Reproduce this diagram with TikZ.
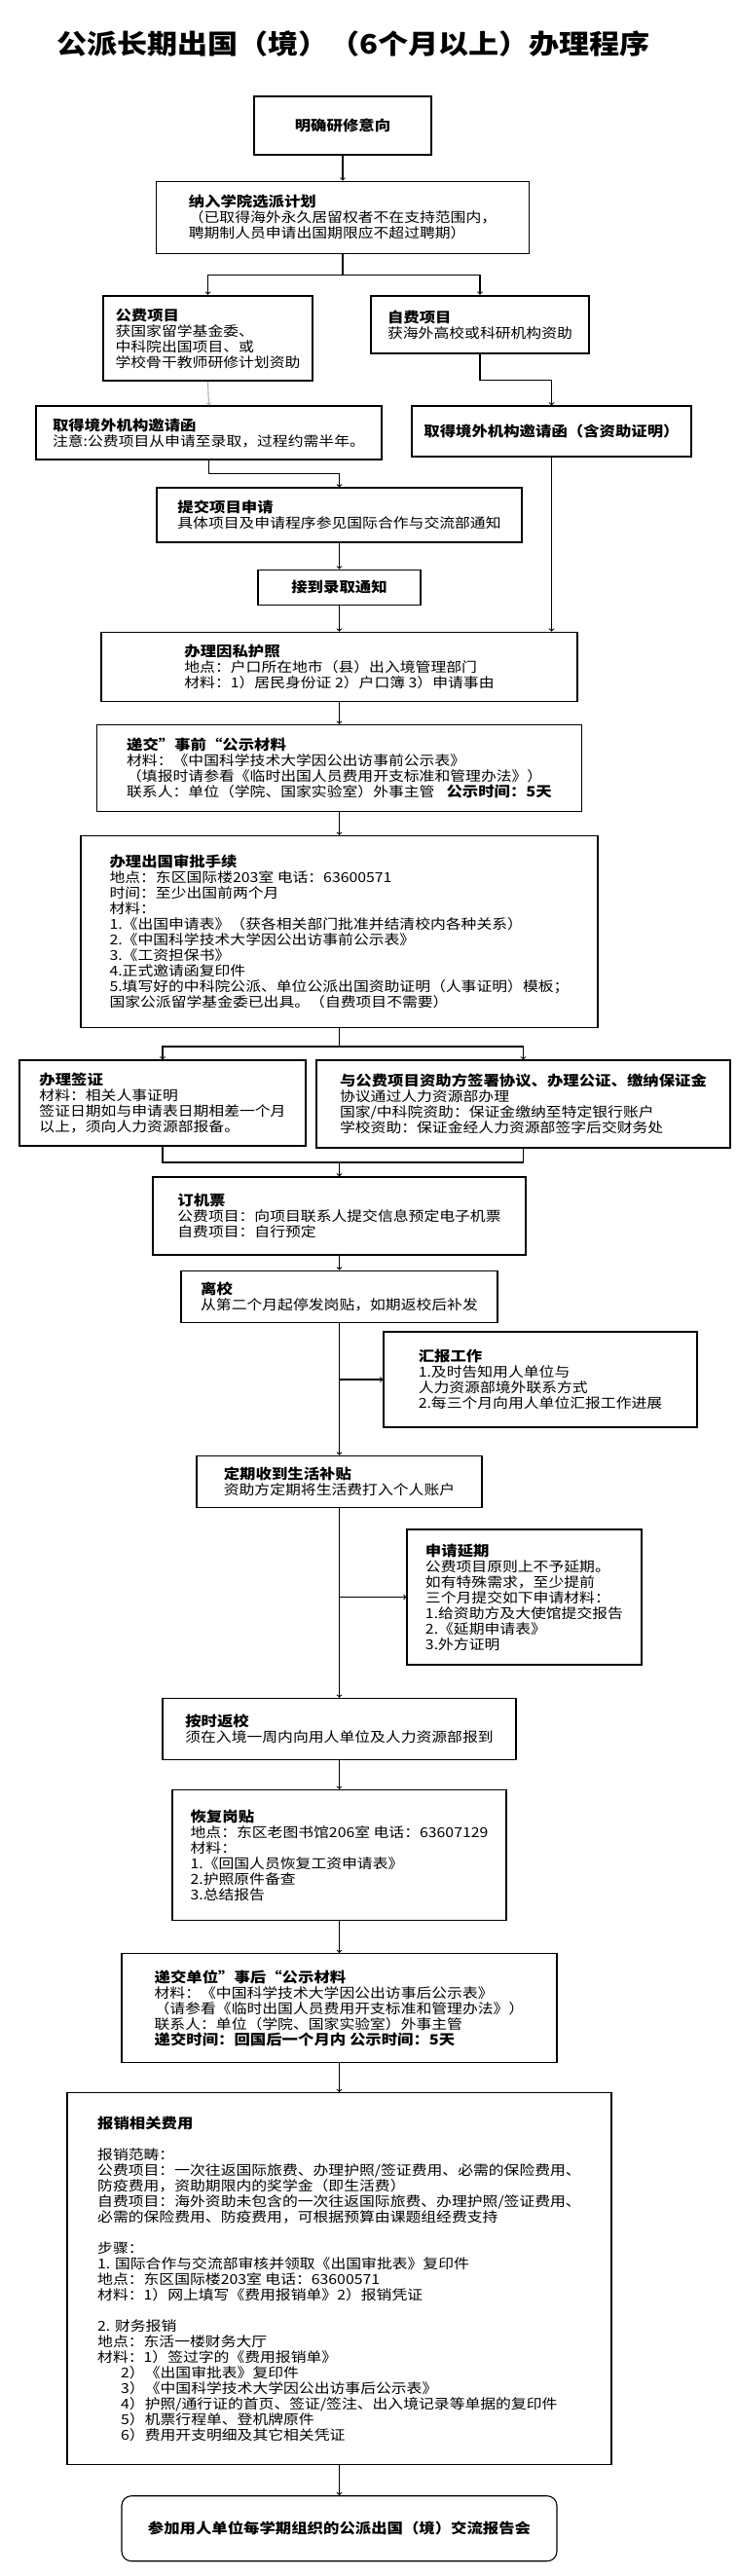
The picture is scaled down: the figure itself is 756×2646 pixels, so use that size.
\documentclass[tikz,border=0pt]{standalone}
\usepackage{fontspec}
\setmainfont{Noto Sans CJK SC}[FakeStretch=1.13]
\usepackage{tikz}
\usetikzlibrary{arrows, positioning, calc}

\newcommand{\hd}[1]{{\fontsize{14.5}{16}\selectfont\bfseries #1}}

\begin{document}
\begin{tikzpicture}[
    x=1pt, y=-1pt,
    box/.style={rectangle, draw, line width=1.1pt, align=left, inner sep=0pt, font=\fontsize{14}{16}\selectfont},
    thickbox/.style={box, line width=2.6pt},
    roundbox/.style={box, rounded corners=10pt},
    arrow/.style={->, >=to, line width=1.1pt},
    link/.style={line width=1.1pt}
]
    \useasboundingbox (0,0) rectangle (756,2646);

    % Title
    \node[font=\fontsize{27.5}{30}\selectfont\bfseries] (title) at (363,45) {公派长期出国（境）（6个月以上）办理程序};

    % Intention and plan
    \node[box, minimum width=182pt, minimum height=60pt] (intent) at (352,129) {\hd{明确研修意向}};
    \node[box, minimum width=383pt, minimum height=74pt, below=26pt of intent] (plan) {\hd{纳入学院选派计划}\\（已取得海外永久居留权者不在支持范围内，\\聘期制人员申请出国期限应不超过聘期）};

    % Funding types
    \node[thickbox, minimum width=215pt, minimum height=87pt] (gongfei) at (213.5,347.5) {\hd{公费项目}\\获国家留学基金委、\\中科院出国项目、或\\学校骨干教师研修计划资助};
    \node[thickbox, minimum width=224pt, minimum height=59pt] (zifei) at (493,333.5) {\hd{自费项目}\\获海外高校或科研机构资助};

    % Invitations
    \node[box, minimum width=355pt, minimum height=55pt] (invite1) at (214.5,444.5) {\hd{取得境外机构邀请函}\\注意:公费项目从申请至录取，过程约需半年。};
    \node[box, minimum width=287pt, minimum height=52pt] (invite2) at (566.5,443) {\hd{取得境外机构邀请函（含资助证明）}};

    % Application
    \node[box, minimum width=375pt, minimum height=56pt] (apply) at (348.5,529) {\hd{提交项目申请}\\具体项目及申请程序参见国际合作与交流部通知};
    \node[box, minimum width=167pt, minimum height=36pt, below=27pt of apply] (admit) {\hd{接到录取通知}};

    % Passport and notice
    \node[box, minimum width=489pt, minimum height=71pt, below=27pt of admit] (passport) {\hd{办理因私护照}\\地点：户口所在地市（县）出入境管理部门\\材料：1）居民身份证 2）户口簿 3）申请事由};
    \node[box, minimum width=498pt, minimum height=89pt, below=23pt of passport] (prenotice) {\hd{递交"事前“公示材料}\\材料：《中国科学技术大学因公出访事前公示表》\\（填报时请参看《临时出国人员费用开支标准和管理办法》）\\联系人：单位（学院、国家实验室）外事主管\hspace{12pt}\hd{公示时间：5天}};

    % Approval
    \node[box, minimum width=531pt, minimum height=197pt, below=24pt of prenotice] (approval) {\hd{办理出国审批手续}\\地点：东区国际楼203室 电话：63600571\\时间：至少出国前两个月\\材料：\\1.《出国申请表》（获各相关部门批准并结清校内各种关系）\\2.《中国科学技术大学因公出访事前公示表》\\3.《工资担保书》\\4.正式邀请函复印件\\5.填写好的中科院公派、单位公派出国资助证明（人事证明）模板；\\国家公派留学基金委已出具。（自费项目不需要）};

    % Visa and bond
    \node[box, minimum width=294pt, minimum height=88pt] (visa) at (167,1133) {\hd{办理签证}\\材料：相关人事证明\\签证日期如与申请表日期相差一个月\\以上，须向人力资源部报备。};
    \node[box, minimum width=425pt, minimum height=90pt] (bond) at (537.5,1134) {\hd{与公费项目资助方签署协议、办理公证、缴纳保证金}\\协议通过人力资源部办理\\国家/中科院资助：保证金缴纳至特定银行账户\\学校资助：保证金经人力资源部签字后交财务处};

    % Departure
    \node[box, minimum width=383pt, minimum height=80pt] (ticket) at (348.5,1249) {\hd{订机票}\\公费项目：向项目联系人提交信息预定电子机票\\自费项目：自行预定};
    \node[box, minimum width=325pt, minimum height=53pt, below=15pt of ticket] (leave) {\hd{离校}\\从第二个月起停发岗贴，如期返校后补发};

    % Abroad
    \node[box, minimum width=322pt, minimum height=98pt] (report) at (555,1417) {\hd{汇报工作}\\1.及时告知用人单位与\\人力资源部境外联系方式\\2.每三个月向用人单位汇报工作进展};
    \node[box, minimum width=293pt, minimum height=53pt, below=136pt of leave] (stipend) {\hd{定期收到生活补贴}\\资助方定期将生活费打入个人账户};
    \node[box, minimum width=241pt, minimum height=139pt] (extend) at (538.5,1640.5) {\hd{申请延期}\\公费项目原则上不予延期。\\如有特殊需求，至少提前\\三个月提交如下申请材料：\\1.给资助方及大使馆提交报告\\2.《延期申请表》\\3.外方证明};

    % Return
    \node[box, minimum width=363pt, minimum height=63pt, below=195pt of stipend] (back) {\hd{按时返校}\\须在入境一周内向用人单位及人力资源部报到};
    \node[box, minimum width=343pt, minimum height=134pt, below=30pt of back] (salary) {\hd{恢复岗贴}\\地点：东区老图书馆206室 电话：63607129\\材料：\\1.《回国人员恢复工资申请表》\\2.护照原件备查\\3.总结报告};
    \node[box, minimum width=447pt, minimum height=112pt, below=33pt of salary] (postnotice) {\hd{递交单位"事后“公示材料}\\材料：《中国科学技术大学因公出访事后公示表》\\（请参看《临时出国人员费用开支标准和管理办法》）\\联系人：单位（学院、国家实验室）外事主管\\\hd{递交时间：回国后一个月内 公示时间：5天}};

    % Reimbursement
    \node[box, minimum width=559pt, minimum height=382pt, below=30pt of postnotice] (reimburse) {\hd{报销相关费用}\\[16pt]报销范畴：\\公费项目：一次往返国际旅费、办理护照/签证费用、必需的保险费用、\\防疫费用，资助期限内的奖学金（即生活费）\\自费项目：海外资助未包含的一次往返国际旅费、办理护照/签证费用、\\必需的保险费用、防疫费用，可根据预算由课题组经费支持\\[16pt]步骤：\\1. 国际合作与交流部审核并领取《出国审批表》复印件\\地点：东区国际楼203室 电话：63600571\\材料：1）网上填写《费用报销单》2）报销凭证\\[16pt]2. 财务报销\\地点：东活一楼财务大厅\\材料：1）签过字的《费用报销单》\\\hspace*{24pt}2）《出国审批表》复印件\\\hspace*{24pt}3）《中国科学技术大学因公出访事后公示表》\\\hspace*{24pt}4）护照/通行证的首页、签证/签注、出入境记录等单据的复印件\\\hspace*{24pt}5）机票行程单、登机牌原件\\\hspace*{24pt}6）费用开支明细及其它相关凭证};

    % Meeting
    \node[roundbox, align=center, minimum width=447pt, minimum height=67pt, below=31pt of reimburse] (meeting) {\hd{参加用人单位每学期组织的公派出国（境）交流报告会}};

    % Arrows
    \draw[arrow] (intent) -- (plan);
    \draw[arrow] (plan.south) -- ++(0,22) -| (gongfei.north);
    \draw[arrow] (plan.south) -- ++(0,22) -| (zifei.north);
    \draw[arrow, gray!60] (gongfei.south) -- (invite1.north);
    \draw[arrow] (zifei.south) -- ++(0,26) -| (invite2.north);
    \draw[arrow] (invite1.south) -- ++(0,14) -| (apply.north);
    \draw[arrow] (invite2.south) -- (invite2.south |- passport.north);
    \draw[arrow] (apply) -- (admit);
    \draw[arrow] (admit) -- (passport);
    \draw[arrow] (passport) -- (prenotice);
    \draw[arrow] (prenotice) -- (approval);
    \draw[arrow] (approval.south) -- ++(0,19) -| (visa.north);
    \draw[arrow] (approval.south) -- ++(0,19) -| (bond.north);
    \coordinate (join) at (348.5,1194);
    \draw[link] (visa.south) |- (join) -| (bond.south);
    \draw[arrow] (join) -- (ticket.north);
    \draw[arrow] (ticket) -- (leave);
    \draw[arrow] (leave) -- (stipend);
    \draw[arrow] (leave.south |- report.west) -- (report.west);
    \draw[arrow] (stipend) -- (back);
    \draw[arrow] (stipend.south |- extend.west) -- (extend.west);
    \draw[arrow] (back) -- (salary);
    \draw[arrow] (salary) -- (postnotice);
    \draw[arrow] (postnotice) -- (reimburse);
    \draw[arrow] (reimburse) -- (meeting);
\end{tikzpicture}
\end{document}
